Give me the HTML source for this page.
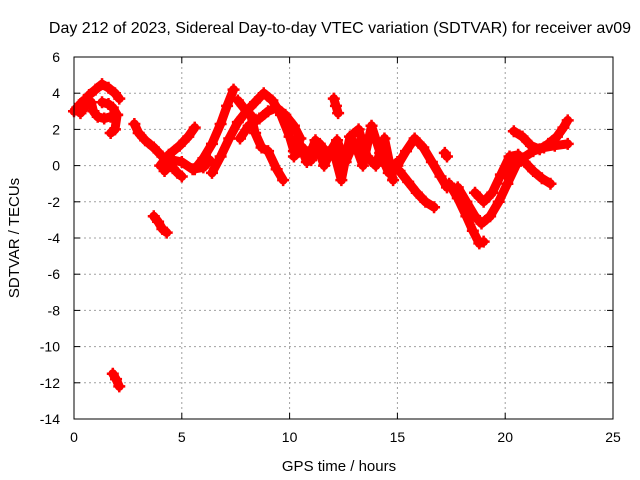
<!DOCTYPE html>
<html><head><meta charset="utf-8"><style>
body{margin:0;background:#fff;}
svg{display:block;font-family:"Liberation Sans",sans-serif;}
</style></head><body>
<svg id="chart" width="640" height="480">
<text x="340" y="33" font-size="16" text-anchor="middle">Day 212 of 2023, Sidereal Day-to-day VTEC variation (SDTVAR) for receiver av09</text>
<text x="339" y="471" font-size="15" text-anchor="middle">GPS time / hours</text>
<text transform="translate(19,238) rotate(-90)" font-size="15" text-anchor="middle">SDTVAR / TECUs</text>
<g id="grid"></g>
<g id="ticks"></g>
<g id="marks"></g>
<rect x="74" y="57" width="539" height="362" fill="none" stroke="#000" stroke-width="1"/>
</svg>
<script>
const xTicks=[0,5,10,15,20,25];
const yTicks=[6,4,2,0,-2,-4,-6,-8,-10,-12,-14];
// each track: [hour, value] samples
const track1=[[0,3.0],[0.15,3.2],[0.3,3.4],[0.45,3.6],[0.55,3.3],[0.3,2.9],[0.1,3.1]];
const track2=[[0.7,3.9],[1.0,4.2],[1.3,4.5],[1.6,4.3],[1.9,4.0],[2.1,3.7]];
const track3=[[0.8,3.5],[0.9,3.0],[1.1,2.7],[1.4,2.6],[1.7,2.7],[2.0,2.8]];
const track4=[[1.3,3.5],[1.6,3.4],[1.8,3.2],[2.0,2.8],[1.9,2.0],[1.7,1.8]];
const track5=[[2.8,2.3],[3.0,1.8],[3.3,1.4],[3.7,1.0],[4.1,0.5],[4.5,0.0],[4.8,-0.4],[5.0,-0.6]];
const track6=[[4.0,0.0],[4.4,0.6],[4.9,1.1],[5.3,1.6],[5.6,2.1]];
const track7=[[4.2,-0.3],[4.6,0.3],[5.0,0.2],[5.5,-0.2],[6.0,-0.1],[6.3,0.3]];
const track8=[[3.7,-2.8],[3.9,-3.1],[4.1,-3.5],[4.3,-3.7]];
const track9=[[1.8,-11.5],[1.95,-11.8],[2.1,-12.2]];
const track10=[[5.6,-0.2],[6.0,0.4],[6.4,1.2],[6.8,2.3],[7.1,3.3],[7.4,4.2]];
const track11=[[6.4,-0.4],[6.8,0.5],[7.2,1.5],[7.6,2.4],[8.0,3.0]];
const track12=[[7.6,3.6],[8.0,3.0],[8.4,3.5],[8.8,4.0],[9.2,3.6],[9.6,2.8],[10.0,1.6],[10.2,0.8]];
const track13=[[7.7,1.5],[8.1,2.2],[8.6,2.6],[9.0,3.0],[9.4,3.2],[9.8,2.8],[10.2,2.2],[10.5,1.5]];
const track14=[[8.2,2.8],[8.4,1.8],[8.7,1.0],[9.0,0.8],[9.4,-0.2],[9.7,-0.8]];
const track15=[[10.2,0.5],[10.6,1.0],[11.0,0.3],[11.4,1.2],[11.8,0.6],[12.2,1.4],[12.6,0.2],[13.0,1.3],[13.4,0.0],[13.8,2.2],[14.2,0.7],[14.6,-0.4],[15.0,0.2]];
const track16=[[10.4,1.4],[10.8,0.2],[11.2,1.4],[11.6,0.0],[12.0,1.0],[12.4,-0.8],[12.8,1.6],[13.2,2.0],[13.6,0.5],[14.0,0.0],[14.4,1.5],[14.8,-0.8]];
const track17=[[12.05,3.7],[12.15,3.3],[12.25,2.9]];
const track18=[[15.0,0.0],[15.4,0.8],[15.8,1.5],[16.2,1.0],[16.6,0.2],[17.0,-0.6],[17.3,-1.2]];
const track19=[[15.1,-0.3],[15.5,-0.9],[15.9,-1.5],[16.3,-2.0],[16.7,-2.3]];
const track20=[[17.2,0.7],[17.3,0.5]];
const track21=[[17.4,-1.0],[17.8,-1.8],[18.2,-2.8],[18.5,-3.6],[18.8,-4.3],[19.0,-4.2]];
const track22=[[17.8,-1.2],[18.2,-2.0],[18.6,-2.8],[18.9,-3.2],[19.3,-2.8],[19.7,-2.0],[20.1,-1.0],[20.5,0.0]];
const track23=[[18.6,-1.5],[19.0,-2.0],[19.4,-1.5],[19.8,-0.5],[20.2,0.5],[20.6,0.6]];
const track24=[[20.0,-0.5],[20.5,0.4],[20.9,0.2],[21.3,-0.3],[21.7,-0.7],[22.1,-1.0]];
const track25=[[20.4,1.9],[20.8,1.6],[21.2,1.1],[21.6,0.9],[22.0,1.2],[22.4,1.6],[22.7,2.1],[22.9,2.5]];
const track26=[[20.8,0.4],[21.3,0.8],[21.8,1.0],[22.3,1.1],[22.9,1.2]];
const tracks=[track1,track2,track3,track4,track5,track6,track7,track8,track9,track10,track11,track12,track13,track14,track15,track16,track17,track18,track19,track20,track21,track22,track23,track24,track25,track26];

const X0=74,X1=613,Y0=419,Y1=57;
const xs=v=>X0+(v-0)/(25-0)*(X1-X0);
const ys=v=>Y0-(v+14)/(20)*(Y0-Y1);
const NS='http://www.w3.org/2000/svg';
const grid=document.getElementById('grid'),ticks=document.getElementById('ticks'),marks=document.getElementById('marks');
function mk(t,a,p){const e=document.createElementNS(NS,t);for(const k in a)e.setAttribute(k,a[k]);p.appendChild(e);return e;}
xTicks.forEach(t=>{const x=xs(t);
 if(t>0&&t<25){const l=mk('line',{x1:x,y1:Y1,x2:x,y2:Y0,stroke:'#a0a0a0','stroke-dasharray':'2,3'},grid);
 }
 mk('line',{x1:x,y1:Y0,x2:x,y2:Y0-6,stroke:'#000'},ticks);mk('line',{x1:x,y1:Y1,x2:x,y2:Y1+6,stroke:'#000'},ticks);
 const tx=mk('text',{x:x,y:Y0+23,'font-size':14,'text-anchor':'middle'},ticks);tx.textContent=t;
 });
yTicks.forEach(t=>{const y=ys(t);
 if(t<6&&t>-14){const l=mk('line',{x1:X0,y1:y,x2:X1,y2:y,stroke:'#a0a0a0','stroke-dasharray':'2,3'},grid);
 }
 mk('line',{x1:X0,y1:y,x2:X0+6,y2:y,stroke:'#000'},ticks);mk('line',{x1:X1,y1:y,x2:X1-6,y2:y,stroke:'#000'},ticks);
 const tx=mk('text',{x:X0-14,y:y+5,'font-size':14,'text-anchor':'end'},ticks);tx.textContent=t;
 });
tracks.forEach(tr=>{
 const pl=mk('polyline',{points:tr.map(p=>xs(p[0])+','+ys(p[1])).join(' '),fill:'none',stroke:'#ff0000','stroke-width':9,'stroke-linejoin':'round','stroke-linecap':'round'},marks);
 
 
 tr.forEach(p=>{const x=xs(p[0]),y=ys(p[1]);
  const m=mk('path',{d:`M${x-6},${y}H${x+6}M${x},${y-6}V${y+6}`,stroke:'#ff0000','stroke-width':2.5},marks);
  
  });
});
</script>
</body></html>
